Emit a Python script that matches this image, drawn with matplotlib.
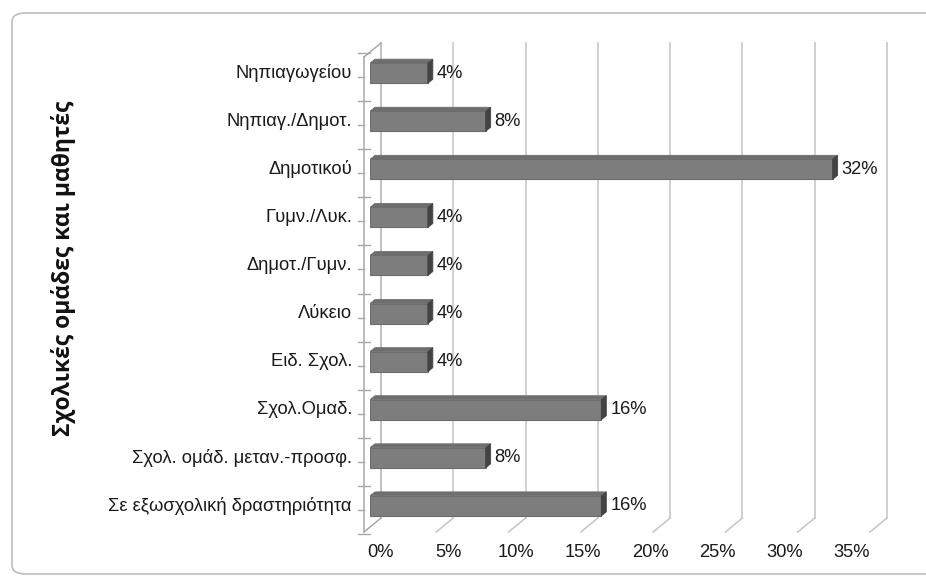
import matplotlib
matplotlib.use("Agg")
import matplotlib.pyplot as plt
from matplotlib.patches import Polygon, FancyBboxPatch

# Data
categories = ["Νηπιαγωγείου", "Νηπιαγ./Δημοτ.", "Δημοτικού", "Γυμν./Λυκ.", "Δημοτ./Γυμν.",
              "Λύκειο", "Ειδ. Σχολ.", "Σχολ.Ομαδ.", "Σχολ. ομάδ. μεταν.-προσφ.",
              "Σε εξωσχολική δραστηριότητα"]
values = [4, 8, 32, 4, 4, 4, 4, 16, 8, 16]
xticks = [0, 5, 10, 15, 20, 25, 30, 35]
ylabel = "Σχολικές ομάδες και μαθητές"

W, H = 926, 579
fig = plt.figure(figsize=(W / 100, H / 100), dpi=100)
plt.rcParams['font.family'] = ['Liberation Sans', 'DejaVu Sans']
fs = 13.2

# outer rounded frame (right edge cut off in the reference)
fig.patches.append(FancyBboxPatch((12 / W, 1 - 574 / H), 940 / W, 561 / H,
                                  boxstyle="round,pad=0,rounding_size=0.015",
                                  transform=fig.transFigure, fc='none', ec='#bdbdbd',
                                  lw=1.2, zorder=-1))

# bar plane axes
ax_l, ax_r, ax_t, ax_b = 370, 876, 53, 528
ax = fig.add_axes([ax_l / W, 1 - ax_b / H, (ax_r - ax_l) / W, (ax_b - ax_t) / H])
ax.set_xlim(0, 35)
ax.set_ylim(9.46, -0.42)
ax.axis('off')

px_x = (ax_r - ax_l) / 35.0
px_y = (ax_b - ax_t) / (9.46 + 0.42)

def dxy(dx_px, dy_px):
    # pixel offset -> data offset (y axis inverted)
    return dx_px / px_x, -dy_px / px_y

bx, by = dxy(11, 10)     # back wall
fx, fy = dxy(-6, -4)     # front floor edge
ybot, ytop = 9.46, -0.42
grid_c = '#c8c8c8'

# gridlines on the back wall + floor diagonals
for v in xticks[1:]:
    ax.plot([v + bx, v + bx], [ytop + by, ybot + by], color=grid_c, lw=1.2, clip_on=False, zorder=1)
    ax.plot([v + fx, v + bx], [ybot + fy, ybot + by], color=grid_c, lw=1.2, clip_on=False, zorder=1)

# side wall (value 0)
ax.plot([bx, bx], [ytop + by, ybot + by], color='#b0b0b0', lw=1.1, clip_on=False, zorder=1)
ax.plot([fx, fx], [ytop + fy, ybot + fy], color='#a8a8a8', lw=1.1, clip_on=False, zorder=4)
ax.plot([fx, bx], [ytop + fy, ytop + by], color='#a8a8a8', lw=1.1, clip_on=False, zorder=4)
ax.plot([fx, bx], [ybot + fy, ybot + by], color='#a8a8a8', lw=1.1, clip_on=False, zorder=4)

# small axis ticks
tl, _ = dxy(6, 0)
for i in range(len(categories) + 1):
    yb = i - 0.5 + fy
    ax.plot([fx - tl, fx + tl], [yb, yb], color='#a8a8a8', lw=1.0, clip_on=False, zorder=4)
for i in range(len(categories)):
    ax.plot([fx - tl, fx], [i + fy, i + fy], color='#a8a8a8', lw=1.0, clip_on=False, zorder=4)

# bars with pseudo-3D faces
h = 20 / px_y
ddx, ddy = dxy(5, 4)
ys = list(range(len(categories)))
ax.barh(ys, values, height=h, color='#7d7d7d', edgecolor='#6c6c6c', lw=0.8, zorder=3)
for y, v in zip(ys, values):
    top = y - h / 2
    bot = y + h / 2
    ax.add_patch(Polygon([(0, top), (v, top), (v + ddx, top + ddy), (ddx, top + ddy)],
                         closed=True, fc='#6e6e6e', ec='#6e6e6e', lw=0.6, zorder=3))
    ax.add_patch(Polygon([(v, top), (v + ddx, top + ddy), (v + ddx, bot + ddy), (v, bot)],
                         closed=True, fc='#434343', ec='#434343', lw=0.6, zorder=3))
    ax.annotate(f"{v}%", (v, y), xytext=(9, 0), textcoords='offset pixels',
                ha='left', va='center', fontsize=fs, color='#1a1a1a', zorder=5)

# category labels
for y, c in zip(ys, categories):
    ax.annotate(c, (0, y), xytext=(-18, 0), textcoords='offset pixels',
                ha='right', va='center', fontsize=fs, color='#1a1a1a')

# x tick labels (perspective-compressed front scale)
ax2 = fig.add_axes([381 / W, 1 - 543 / H, 471 / W, 0.0005])
ax2.set_xlim(0, 35)
ax2.set_xticks(xticks)
ax2.set_xticklabels([f"{t}%" for t in xticks], fontsize=fs, color='#1a1a1a')
ax2.tick_params(axis='x', length=0, pad=1)
ax2.set_yticks([])
for s in ax2.spines.values():
    s.set_visible(False)
ax2.patch.set_alpha(0)

fig.text(64 / W, 1 - 268 / H, ylabel, rotation=90, ha='center', va='center',
         fontsize=16.5, fontweight='bold', family=['Open Sans', 'DejaVu Sans'], color='#111111')

fig.savefig("out.png", dpi=100)
